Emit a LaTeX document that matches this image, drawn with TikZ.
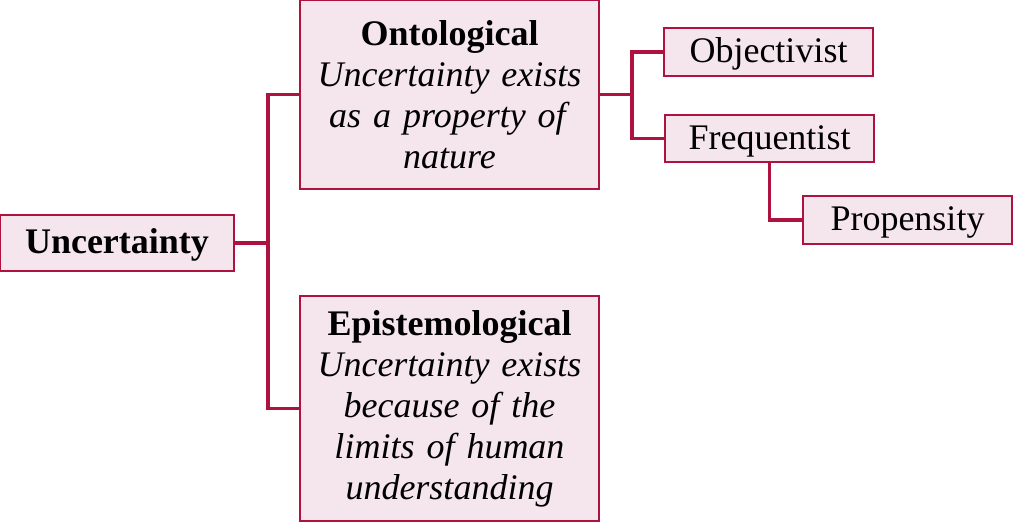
\documentclass[tikz,border=0pt]{standalone}
\usepackage{fontspec}
\setmainfont{Liberation Serif}
\definecolor{edge}{HTML}{B0123F}
\definecolor{boxfill}{HTML}{F5E5EC}
\tikzset{
  box/.style={draw=edge, fill=boxfill, line width=1.8pt, inner sep=0pt, align=center,
    font=\fontsize{36}{41}\selectfont},
  onebox/.style={box, text height=25pt, text depth=4pt},
  conn/.style={draw=edge, line width=3.2pt},
}
\begin{document}
\begin{tikzpicture}[x=1pt,y=-1pt]
\useasboundingbox (0,0) rectangle (1013,522);
\node[onebox, minimum width=234pt, minimum height=56pt] (unc) at (117,243) {\textbf{Uncertainty}};
\node[box, minimum width=299pt, minimum height=189pt, text width=295pt] (onto) at (449.5,94.5)
  {\textbf{Ontological}\\ \textit{Uncertainty exists}\\ \textit{as a property of}\\ \textit{nature}};
\node[box, minimum width=299pt, minimum height=225pt, text width=295pt] (epi) at (449.5,408.5)
  {\textbf{Epistemological}\\ \textit{Uncertainty exists}\\ \textit{because of the}\\ \textit{limits of human}\\ \textit{understanding}};
\node[onebox, minimum width=209pt, minimum height=48pt] (obj) at (768.5,52) {Objectivist};
\node[onebox, minimum width=209pt, minimum height=47pt] (freq) at (769.5,138.5) {Frequentist};
\node[onebox, minimum width=209pt, minimum height=48pt] (prop) at (907.5,220) {Propensity};
\coordinate (j1) at (268,243);
\coordinate (j2) at (632,94.5);
\draw[conn] (unc.east) -- (j1);
\draw[conn] (j1) |- (onto.west);
\draw[conn] (j1) |- (epi.west);
\draw[conn] (onto.east) -- (j2);
\draw[conn] (j2) |- (obj.west);
\draw[conn] (j2) |- (freq.west);
\draw[conn] (freq.south) |- (prop.west);
\end{tikzpicture}
\end{document}
